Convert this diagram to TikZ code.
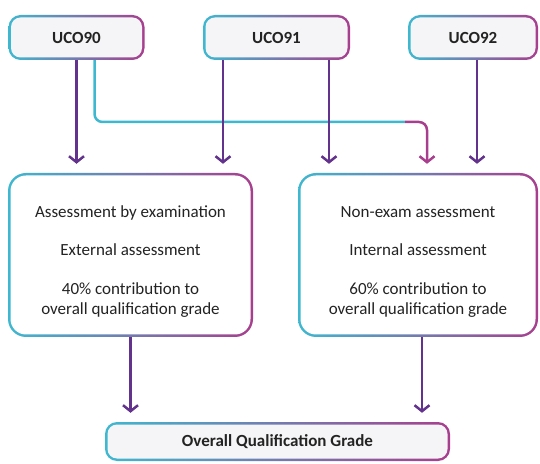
\documentclass[tikz,border=0pt]{standalone}
\usepackage{fontspec}
\setmainfont{Carlito}
\usepackage{tikz}
\usetikzlibrary{positioning, calc, arrows.meta}

\definecolor{ucocyan}{RGB}{62,184,208}
\definecolor{ucopurple}{RGB}{98,50,140}
\definecolor{ucomagenta}{RGB}{168,62,142}
\definecolor{ucogrey}{RGB}{245,245,247}
\definecolor{ucotext}{RGB}{35,35,35}

\tikzset{
  gradbox/.style 2 args={rounded corners=#2, text=ucotext,
    path picture={
      \shade[left color=ucocyan, middle color=ucopurple, right color=ucomagenta]
        (path picture bounding box.south west) rectangle (path picture bounding box.north east);
      \fill[#1, rounded corners=#2-2.5pt]
        ([shift={(2.5pt,2.5pt)}]path picture bounding box.south west) rectangle
        ([shift={(-2.5pt,-2.5pt)}]path picture bounding box.north east);
    }},
  ucobox/.style={gradbox={ucogrey}{12pt}, minimum height=45pt, font=\fontsize{17}{20}\selectfont\bfseries},
  mainbox/.style={gradbox={white}{18pt}, minimum height=164pt, align=center, font=\fontsize{17}{20}\selectfont},
  conn/.style={draw=ucopurple, line width=2.5pt, -{Straight Barb[length=6pt,width=15pt]}, shorten >=9pt},
}

\begin{document}
\begin{tikzpicture}[x=1pt, y=1pt]
      \useasboundingbox (0,0) rectangle (540,463);
      % unit boxes
      \node[ucobox, minimum width=136pt] (uco90) at (76.5,425.5) {UCO90};
      \node[ucobox, minimum width=147pt] (uco91) at (276.5,425.5) {UCO91};
      \node[ucobox, minimum width=130pt] (uco92) at (473,425.5) {UCO92};
      % assessment boxes
      \node[mainbox, minimum width=245pt] (exam) at (130.5,208) {\rule{0pt}{24pt}Assessment by examination\\[18pt]
        External assessment\\[19pt] 40\% contribution to\\ overall qualification grade};
      \node[mainbox, minimum width=240pt] (nonexam) at (418,208) {\rule{0pt}{24pt}Non-exam assessment\\[18pt]
        Internal assessment\\[19pt] 60\% contribution to\\ overall qualification grade};
      % result
      \node[ucobox, minimum width=345pt, minimum height=39pt] (grade) at (277.5,21.5) {Overall Qualification Grade};
      % UCO90 to non-exam
      \coordinate (turn) at (405,341);
      \draw[draw=ucocyan, line width=2.5pt, rounded corners=8pt] ([xshift=18pt]uco90.south) |- (turn);
      \draw[conn, draw=ucomagenta, rounded corners=8pt] (turn) -| ([xshift=9pt]nonexam.north);
      % straight arrows
      \draw[conn] (uco90.south) -- (uco90.south |- exam.north);
      \draw[conn] ([xshift=-53.5pt]uco91.south) -- ([xshift=-53.5pt]uco91.south |- exam.north);
      \draw[conn] ([xshift=52.5pt]uco91.south) -- ([xshift=52.5pt]uco91.south |- nonexam.north);
      \draw[conn] ([xshift=4pt]uco92.south) -- ([xshift=4pt]uco92.south |- nonexam.north);
      \draw[conn] (exam.south) -- (exam.south |- grade.north);
      \draw[conn] ([xshift=4pt]nonexam.south) -- ([xshift=4pt]nonexam.south |- grade.north);
\end{tikzpicture}
\end{document}
